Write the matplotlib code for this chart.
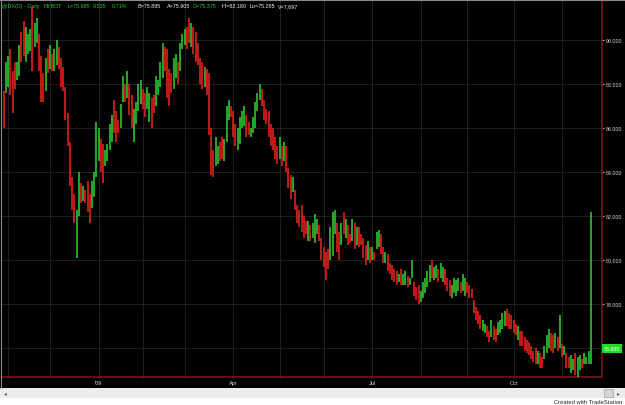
"""
DX daily bar chart, TradeStation style
"""
import matplotlib
matplotlib.use('Agg')
import matplotlib.pyplot as plt
from matplotlib.patches import Rectangle
from matplotlib.lines import Line2D
import matplotlib.transforms as mtransforms
import numpy as np
import pandas as pd

# ---- data ----
highs = [
  87.7, 89.0, 89.3, 89.6, 88.6, 89.0, 89.0, 89.8, 90.4, 90.9,
  90.6, 90.3, 90.5, 91.5, 90.8, 91.0, 90.3, 89.3, 88.5, 89.2,
  89.6, 89.8, 89.4, 89.6, 90.0, 89.7, 89.2, 88.8, 87.9, 86.7,
  85.4, 83.8, 83.0, 82.3, 84.0, 83.5, 83.4, 83.2, 83.6, 83.0,
  83.6, 84.0, 86.3, 86.0, 85.5, 85.3, 85.0, 85.3, 86.2, 86.6,
  87.3, 86.8, 86.4, 87.1, 88.4, 88.0, 88.6, 88.0, 87.5, 86.9,
  87.2, 88.0, 88.2, 87.8, 87.6, 87.9, 87.6, 87.4, 87.5, 88.4,
  88.2, 89.0, 89.9, 89.7, 89.6, 88.7, 88.5, 89.2, 89.4, 89.0,
  89.9, 90.3, 90.5, 90.6, 91.0, 90.8, 90.6, 90.4, 89.9, 89.2,
  89.0, 88.8, 88.7, 88.5, 86.0, 85.0, 85.6, 85.2, 85.4, 85.6,
  85.5, 87.0, 87.3, 87.0, 86.8, 86.2, 86.0, 86.5, 86.8, 87.0,
  86.6, 86.3, 86.0, 86.5, 87.2, 87.6, 88.0, 87.8, 87.3, 86.9,
  86.8, 86.2, 86.0, 85.6, 85.2, 85.6, 85.2, 85.4, 85.2, 84.2,
  83.9, 83.8, 83.2, 82.5, 82.3, 82.5, 82.0, 81.8, 81.8, 81.6,
  81.7, 82.1, 81.9, 81.6, 81.0, 80.6, 80.4, 80.5, 81.5, 82.2,
  82.3, 81.7, 81.3, 81.7, 82.2, 81.9, 81.6, 81.2, 81.9, 81.7,
  81.5, 81.5, 81.2, 81.0, 80.7, 80.9, 80.6, 80.6, 80.4, 81.3,
  81.4, 81.2, 80.6, 80.4, 80.3, 79.9, 79.8, 79.6, 79.5, 79.4,
  79.6, 79.4, 79.5, 79.3, 79.2, 80.0, 79.0, 78.8, 78.9, 78.6,
  79.0, 79.2, 79.5, 79.8, 80.0, 79.7, 79.8, 79.6, 79.9, 79.7,
  79.6, 79.2, 79.1, 78.9, 79.2, 79.1, 79.2, 79.0, 79.4, 79.2,
  79.0, 78.9, 78.7, 78.2, 77.9, 77.7, 77.5, 77.3, 77.1, 77.0,
  76.8, 77.3, 77.0, 76.9, 77.2, 77.3, 77.6, 77.7, 77.8, 77.6,
  77.5, 77.3, 77.1, 77.0, 76.8, 76.8, 76.5, 76.4, 76.3, 76.1,
  75.9, 76.0, 75.9, 75.8, 75.6, 76.1, 76.6, 76.9, 76.7, 76.6,
  76.7, 76.5, 77.5, 76.2, 76.1, 75.8, 75.6, 75.7, 75.5, 75.8,
  75.6, 75.7, 75.5, 75.8, 75.6, 75.9, 82.18,
]
lows = [
  86.0, 87.6, 87.9, 87.5, 86.7, 87.8, 88.2, 88.4, 89.0, 89.3,
  89.0, 89.4, 89.5, 88.6, 89.7, 89.9, 88.6, 87.2, 87.2, 87.7,
  88.5, 88.7, 88.6, 88.6, 88.9, 88.7, 87.9, 87.7, 86.4, 85.2,
  83.4, 82.3, 81.7, 80.1, 82.0, 82.6, 82.7, 82.6, 82.2, 81.7,
  82.4, 82.9, 83.8, 84.5, 84.0, 83.5, 84.3, 84.5, 85.0, 85.4,
  85.8, 85.4, 85.8, 86.0, 87.2, 87.2, 87.4, 86.6, 86.0, 85.4,
  86.2, 86.8, 87.1, 86.9, 86.5, 86.9, 86.3, 86.0, 86.7, 87.0,
  87.5, 87.9, 88.3, 88.6, 87.4, 87.0, 87.6, 87.8, 88.3, 88.0,
  88.6, 89.6, 89.8, 89.6, 89.9, 89.7, 89.4, 89.0, 88.9, 88.0,
  87.8, 87.9, 87.5, 85.7, 83.9, 83.8, 84.3, 84.4, 84.5, 84.6,
  84.5, 85.4, 86.4, 86.5, 85.6, 85.2, 85.0, 85.3, 86.0, 86.1,
  85.6, 85.7, 85.6, 85.8, 86.0, 86.8, 87.3, 87.0, 86.4, 86.2,
  85.6, 85.2, 85.0, 84.6, 84.4, 84.6, 84.3, 84.5, 84.0, 83.3,
  82.8, 83.1, 82.3, 81.7, 81.5, 81.3, 81.0, 81.2, 80.9, 80.9,
  81.0, 80.8, 81.2, 80.9, 80.0, 79.7, 79.1, 79.6, 80.0, 80.2,
  81.2, 80.4, 80.0, 80.7, 81.2, 81.0, 80.7, 80.8, 80.9, 80.5,
  80.7, 80.6, 80.7, 80.1, 79.8, 80.0, 79.9, 80.0, 80.0, 80.5,
  80.6, 80.3, 79.9, 79.9, 79.5, 79.4, 79.1, 79.0, 78.9, 79.0,
  78.9, 78.9, 78.9, 78.8, 78.9, 79.2, 78.4, 78.2, 78.0, 78.1,
  78.3, 78.5, 78.8, 79.0, 79.2, 79.1, 79.2, 79.0, 79.2, 79.0,
  78.9, 78.6, 78.4, 78.3, 78.5, 78.4, 78.6, 78.5, 78.6, 78.4,
  78.5, 78.3, 78.3, 77.6, 77.3, 77.1, 76.9, 76.8, 76.7, 76.5,
  76.3, 76.5, 76.4, 76.3, 76.6, 76.7, 76.9, 77.0, 77.0, 76.9,
  76.9, 76.7, 76.6, 76.4, 76.1, 76.1, 75.9, 75.8, 75.7, 75.5,
  75.4, 75.3, 75.3, 75.1, 75.1, 75.5, 75.8, 76.0, 75.9, 75.8,
  76.0, 75.9, 76.0, 75.6, 75.7, 75.1, 75.1, 74.9, 75.0, 74.8,
  74.7, 75.0, 75.1, 75.3, 75.3, 75.3, 75.285,
]
# u = up bar (green), d = down bar (red), ten bars per row
updown = "".join([
  "duuddduudd", "uuuduudddu", "duduuddddd", "ddduududdd", "uuuudduuuu",
  "ddduududdu", "uuudduuddu", "uuudddduud", "uuuddudddd", "dudddduudd",
  "uuuddduuuu", "dduuuuuddd", "dddddududd", "duddddddud", "uuuddddduu",
  "uddududdud", "uddddududu", "uddudddddu", "duuduudddu", "uuuuduuduu",
  "ddduuuuduu", "ddddddduud", "dudduuuudd", "ddduddddd",  "dddudduuudd",
  "udududduud", "uuduuuu",
])

last_close = 75.985
price_ticks = [76, 78, 80, 82, 84, 86, 88, 90]
month_names = {1: "'09", 4: 'Apr', 7: 'Jul', 10: 'Oct'}
holidays = ['2008-11-27', '2008-12-25', '2009-01-01', '2009-01-19', '2009-02-16',
            '2009-04-10', '2009-05-25', '2009-07-03', '2009-09-07']
header = [
  ('@DX(D) - Daily', 'g'), ('NYBOT', 'g'), ('L=75.985', 'g'), ('0.535', 'g'),
  ('0.71%', 'g'), ('B=75.895', 'w'), ('A=75.905', 'w'), ('O=75.375', 'g'),
  ('Hi=82.180', 'w'), ('Lo=75.285', 'w'), ('V=7,697', 'w'),
]
header_x = [2, 44, 67, 93, 112, 137, 167, 193, 221, 250, 278]

n = len(highs)
updown = (updown + 'u' * n)[:n]
dates = pd.bdate_range('2008-10-30', periods=n, freq='C', holidays=holidays)
xs = np.arange(n)

GREEN = '#2fc22f'
RED = '#e3201c'
AXRED = '#7a1414'
GRID = '#242424'
TXT = '#d8d8d8'

W, H = 625, 406
fig = plt.figure(figsize=(W / 100, H / 100), dpi=100)
fig.patch.set_facecolor('white')

def px(x, y):
  return x / W, 1 - y / H

# background pieces (behind the axes)
fig.patches.append(Rectangle((0, 1 - 389 / H), 1, 389 / H, transform=fig.transFigure,
                             facecolor='black', edgecolor='none', zorder=-5))
fig.patches.append(Rectangle((0, 1 - 399 / H), 1, 10 / H, transform=fig.transFigure,
                             facecolor='#ececec', edgecolor='none', zorder=-5))
fig.patches.append(Rectangle(px(604, 398), 9 / W, 8 / H, transform=fig.transFigure,
                             facecolor='#d4d4d4', edgecolor='#a0a0a0', lw=0.5, zorder=-4))
fig.lines.append(Line2D([0.5 / W, 0.5 / W], [1, 1 - 389 / H], transform=fig.transFigure,
                        color='#8c8c8c', lw=0.8, zorder=5))
fig.lines.append(Line2D([0, 1], [1 - 0.5 / H, 1 - 0.5 / H], transform=fig.transFigure,
                        color='#8c8c8c', lw=0.8, zorder=5))

ax = fig.add_axes([2 / W, (H - 378) / H, 600 / W, 377 / H])
ax.set_zorder(1)
ax.set_facecolor('black')

colors = [GREEN if c == 'u' else RED for c in updown]
ax.vlines(xs, lows, highs, colors=colors, lw=1.2, zorder=3)

ax.set_xlim(-0.77, 271.1)
ax.set_ylim(74.70, 91.84)

# month grid / ticks
month_start = [i for i in range(1, n) if dates[i].month != dates[i - 1].month]
ax.set_xticks(month_start)
ax.set_xticklabels([month_names.get(dates[i].month, '') for i in month_start])
ax.set_yticks(price_ticks)
ax.set_yticklabels(['' if v == 76 else f'{v:.3f}' for v in price_ticks])
ax.yaxis.tick_right()
ax.grid(True, color=GRID, lw=0.6, zorder=0)
ax.set_axisbelow(True)
ax.tick_params(axis='x', colors=AXRED, labelcolor=TXT, labelsize=4.0, length=2,
               direction='inout', pad=1.5)
ax.tick_params(axis='y', colors='#aaaaaa', labelcolor=TXT, labelsize=3.8, length=1.5,
               pad=1.0)
for lab in ax.get_xticklabels() + ax.get_yticklabels():
  lab.set_family('Liberation Sans')
for s in ['top', 'left']:
  ax.spines[s].set_visible(False)
for s in ['bottom', 'right']:
  ax.spines[s].set_color(AXRED)
  ax.spines[s].set_linewidth(1.2)

# last price box
trans = mtransforms.blended_transform_factory(ax.transAxes, ax.transData)
ax.text(1.003, last_close, f'{last_close:.3f}', transform=trans, fontsize=3.8,
        color='white', va='center', ha='left', zorder=10, clip_on=False,
        family='Liberation Sans',
        bbox=dict(boxstyle='square,pad=0.4', facecolor='#22dd22', edgecolor='none'))

# header
for (txt, c), hx in zip(header, header_x):
  fig.text(hx / W, 1 - 6.5 / H, txt, fontsize=3.9, va='center', ha='left',
           color=GREEN if c == 'g' else '#f0f0f0', family='Liberation Sans')

# scrollbar arrows and footer
fig.text(4 / W, 1 - 394 / H, '◂', fontsize=4, color='#555555', va='center', ha='left')
fig.text(617 / W, 1 - 394 / H, '▸', fontsize=4, color='#555555', va='center', ha='left')
fig.text(622 / W, 1 - 402.5 / H, 'Created with TradeStation', fontsize=4.2,
         color='#222222', va='center', ha='right', family='Liberation Sans')

fig.savefig('out.png', dpi=100, facecolor=fig.get_facecolor())
